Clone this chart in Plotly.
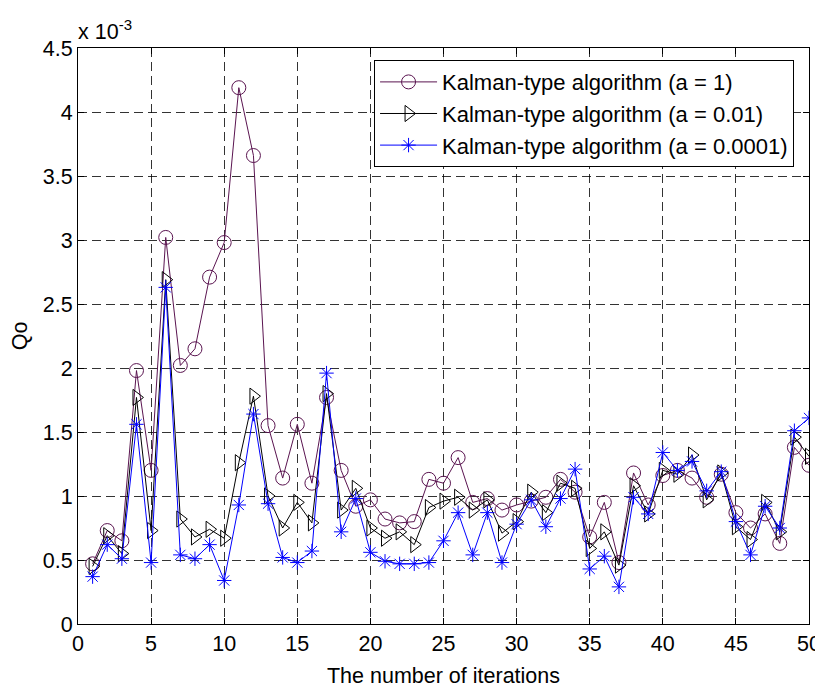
import plotly.graph_objects as go

iterations = list(range(1, 51))

# Values in units of 1e-3
qo_a1 = [0.47, 0.73, 0.65, 1.98, 1.20, 3.02, 2.02, 2.15, 2.71, 2.98,
         4.19, 3.66, 1.55, 1.14, 1.56, 1.10, 1.77, 1.20, 0.92, 0.97,
         0.82, 0.79, 0.80, 1.13, 1.10, 1.30, 0.95, 0.98, 0.89, 0.93,
         0.96, 0.99, 1.13, 1.03, 0.68, 0.95, 0.48, 1.18, 0.93, 1.16,
         1.20, 1.14, 0.99, 1.17, 0.87, 0.75, 0.86, 0.63, 1.38, 1.24]

qo_a001 = [0.45, 0.69, 0.55, 1.77, 0.73, 2.69, 0.82, 0.68, 0.74, 0.67,
           1.26, 1.78, 1.00, 0.75, 0.95, 0.79, 1.80, 0.89, 1.06, 0.75,
           0.67, 0.72, 0.62, 0.91, 0.96, 0.99, 0.89, 0.97, 0.71, 0.80,
           1.03, 0.87, 1.10, 1.06, 0.59, 0.72, 0.46, 1.08, 0.86, 1.20,
           1.17, 1.32, 0.97, 1.18, 0.76, 0.66, 0.95, 0.72, 1.46, 1.31]

qo_a00001 = [0.37, 0.62, 0.51, 1.56, 0.48, 2.63, 0.54, 0.51, 0.62, 0.34,
             0.93, 1.64, 0.94, 0.52, 0.48, 0.57, 1.96, 0.72, 0.98, 0.56,
             0.49, 0.47, 0.47, 0.48, 0.65, 0.87, 0.54, 0.87, 0.48, 0.78,
             0.97, 0.76, 0.98, 1.21, 0.43, 0.53, 0.29, 0.99, 0.86, 1.34,
             1.20, 1.27, 1.04, 1.19, 0.80, 0.54, 0.92, 0.75, 1.51, 1.61]

names = ["Kalman-type algorithm (a = 1)",
         "Kalman-type algorithm (a = 0.01)",
         "Kalman-type algorithm (a = 0.0001)"]

FONT = "Liberation Sans, Arial, sans-serif"
FS = 21.5

fig = go.Figure()
fig.add_trace(go.Scatter(
    x=iterations, y=qo_a1, name=names[0], mode="lines+markers",
    line=dict(color="#5a1450", width=1),
    marker=dict(symbol="circle-open", size=14, color="#5a1450",
                line=dict(width=1, color="#5a1450"))))
fig.add_trace(go.Scatter(
    x=iterations, y=qo_a001, name=names[1], mode="lines+markers",
    line=dict(color="black", width=1),
    marker=dict(symbol="triangle-right-open", size=14, color="black",
                line=dict(width=1, color="black"))))
fig.add_trace(go.Scatter(
    x=iterations, y=qo_a00001, name=names[2], mode="lines+markers",
    line=dict(color="#0000ff", width=1),
    marker=dict(symbol="asterisk-open", size=12, color="#0000ff",
                line=dict(width=1, color="#0000ff"))))

axis_common = dict(
    showline=True, linecolor="black", linewidth=1, mirror="ticks",
    ticks="inside", ticklen=6, tickcolor="black",
    showgrid=True, gridcolor="rgba(0,0,0,0.8)", griddash="9px,5px", gridwidth=1,
    zeroline=False, automargin=False,
    tickfont=dict(family=FONT, size=FS, color="black"),
)

# page body has an 8px margin, so the figure is sized/margined to compensate
fig.update_layout(
    width=815, height=680,
    margin=dict(l=70, r=14, t=40, b=64),
    paper_bgcolor="white", plot_bgcolor="white",
    font=dict(family=FONT, size=FS, color="black"),
    xaxis=dict(range=[0, 50], dtick=5, tick0=0,
               title=dict(text="The number of iterations", standoff=13,
                          font=dict(family=FONT, size=FS)),
               **axis_common),
    yaxis=dict(range=[0, 4.5],
               tickvals=[0, 0.5, 1, 1.5, 2, 2.5, 3, 3.5, 4, 4.5],
               ticktext=["0", "0.5", "1", "1.5", "2", "2.5", "3", "3.5", "4", "4.5"],
               title=dict(text="Qo", standoff=14,
                          font=dict(family=FONT, size=FS)),
               **axis_common),
    legend=dict(x=0.405, y=0.979, xanchor="left", yanchor="top",
                bgcolor="white", bordercolor="black", borderwidth=1,
                font=dict(family=FONT, size=22, color="black"),
                tracegroupgap=0, itemwidth=57),
    showlegend=True,
)

fig.add_annotation(
    xref="paper", yref="paper", x=0, y=1, xanchor="left", yanchor="bottom",
    yshift=2, xshift=-2, showarrow=False,
    text="x 10<sup>-3</sup>", font=dict(family=FONT, size=FS, color="black"))

fig.write_html("out.html")
